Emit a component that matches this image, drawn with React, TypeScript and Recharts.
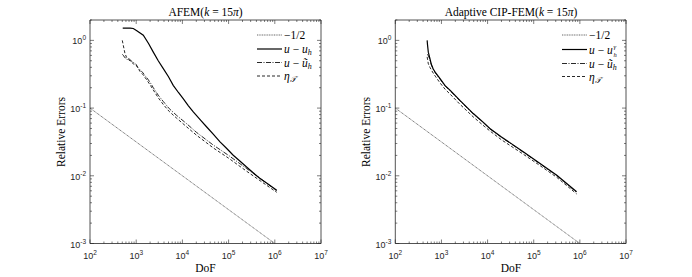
import React from 'react';
import { LineChart, Line, XAxis, YAxis } from 'recharts';

// reference slope -1/2
const refDof = [1e2, 1e6];
const refErr = [1e-1, 1e-3];

// AFEM (left panel)
const afemDof = [511, 620, 740, 865, 1050, 1425, 1850, 2345, 3000, 3860, 5000, 6330, 8200, 10400, 13500, 17200, 25000, 33600, 47000, 65200, 90000, 126000, 175000, 245000, 340000, 479000, 700000, 1100000];
const afemErr = [1.52, 1.52, 1.52, 1.5, 1.38, 1.19, 0.9, 0.67, 0.5, 0.383, 0.29, 0.217, 0.17, 0.138, 0.108, 0.0877, 0.066, 0.0526, 0.041, 0.0316, 0.0255, 0.0201, 0.0165, 0.0135, 0.0111, 0.0091, 0.0076, 0.0061];

const afemTildeDof = [500, 530, 560, 600, 640, 680, 720, 760, 820, 870, 940, 1000, 1080, 1200, 1300, 1410, 1550, 1700, 2000, 2345, 3000, 3860, 5200, 7500, 12300, 20000, 47000, 100000, 245000, 500000, 1100000];
const afemTildeErr = [0.62, 0.6, 0.56, 0.55, 0.52, 0.54, 0.53, 0.5, 0.49, 0.47, 0.46, 0.44, 0.4, 0.37, 0.35, 0.33, 0.3, 0.28, 0.24, 0.2, 0.155, 0.125, 0.098, 0.078, 0.059, 0.044, 0.0283, 0.02, 0.0128, 0.009, 0.006];

const afemEtaDof = [500, 571, 620, 680, 760, 870, 1000, 1200, 1410, 1700, 2000, 2345, 3000, 3860, 5200, 7500, 12300, 20000, 47000, 100000, 245000, 500000, 1100000];
const afemEtaErr = [1.0, 0.64, 0.56, 0.52, 0.49, 0.45, 0.43, 0.35, 0.31, 0.26, 0.22, 0.185, 0.142, 0.113, 0.089, 0.071, 0.053, 0.04, 0.0257, 0.0182, 0.0117, 0.0083, 0.0057];

// Adaptive CIP-FEM (right panel)
const cipDof = [490, 500, 519, 562, 600, 660, 750, 933, 1200, 1550, 2510, 4900, 8700, 11200, 20000, 60300, 130000, 316000, 851000];
const cipErr = [1.0, 0.85, 0.67, 0.54, 0.45, 0.38, 0.33, 0.272, 0.215, 0.183, 0.13, 0.083, 0.059, 0.05, 0.0375, 0.0225, 0.0156, 0.0102, 0.0058];

const cipTildeDof = [490, 519, 562, 600, 660, 750, 933, 1200, 1550, 2510, 4900, 8700, 11200, 20000, 60300, 130000, 316000, 851000];
const cipTildeErr = [0.62, 0.6, 0.52, 0.44, 0.375, 0.326, 0.268, 0.212, 0.18, 0.128, 0.082, 0.058, 0.0495, 0.037, 0.0222, 0.0154, 0.0101, 0.0057];

const cipEtaDof = [490, 520, 562, 660, 750, 933, 1200, 1550, 2510, 4900, 8700, 11200, 20000, 60300, 130000, 316000, 851000];
const cipEtaErr = [0.57, 0.45, 0.4, 0.33, 0.29, 0.235, 0.19, 0.16, 0.114, 0.074, 0.053, 0.046, 0.034, 0.0207, 0.0145, 0.0095, 0.0054];

const xTicks = [100, 200, 300, 400, 500, 600, 700, 800, 900, 1e3, 2e3, 3e3, 4e3, 5e3, 6e3, 7e3, 8e3, 9e3, 1e4, 2e4, 3e4, 4e4, 5e4, 6e4, 7e4, 8e4, 9e4, 1e5, 2e5, 3e5, 4e5, 5e5, 6e5, 7e5, 8e5, 9e5, 1e6, 2e6, 3e6, 4e6, 5e6, 6e6, 7e6, 8e6, 9e6, 1e7];
const yTicks = [0.001, 0.002, 0.003, 0.004, 0.005, 0.006, 0.007, 0.008, 0.009, 0.01, 0.02, 0.03, 0.04, 0.05, 0.06, 0.07, 0.08, 0.09, 0.1, 0.2, 0.3, 0.4, 0.5, 0.6, 0.7, 0.8, 0.9, 1, 2];

const zip = (xs: number[], ys: number[]) => xs.map((x, i) => ({ x, y: ys[i] }));

const AX = '#262626';
const SANS = '"Liberation Sans", Arial, sans-serif';
const SERIF = '"Liberation Serif", "Times New Roman", serif';

const isMajor = (v: number) => Math.abs(Math.log10(v) - Math.round(Math.log10(v))) < 1e-6;

// x/y handed to a custom tick sit 1px off the plot edge (axis size 1, tickSize 0)
const Tick = ({ x, y, payload, side }: any) => {
  const v = payload.value;
  const major = isMajor(v);
  const len = major ? 4 : 2;
  const exp = Math.round(Math.log10(v));
  if (side === 'bottom') {
    return (
      <g>
        <line x1={x} y1={y} x2={x} y2={y - len} stroke={AX} strokeWidth={0.6} />
        {major && (
          <text x={x} y={y + 15} textAnchor="middle" fontFamily={SANS} fontSize={9} fill={AX}>
            10<tspan dy={-4} fontSize={6.5}>{exp}</tspan>
          </text>
        )}
      </g>
    );
  }
  if (side === 'top') {
    return <line x1={x} y1={y} x2={x} y2={y + len} stroke={AX} strokeWidth={0.6} />;
  }
  if (side === 'left') {
    return (
      <g>
        <line x1={x} y1={y} x2={x + len} y2={y} stroke={AX} strokeWidth={0.6} />
        {major && (
          <text x={x - 4} y={y + 4} textAnchor="end" fontFamily={SANS} fontSize={9} fill={AX}>
            10<tspan dy={-4} fontSize={6.5}>{exp}</tspan>
          </text>
        )}
      </g>
    );
  }
  return <line x1={x} y1={y} x2={x - len} y2={y} stroke={AX} strokeWidth={0.6} />;
};

const STYLES = {
  ref: { stroke: '#555', strokeWidth: 0.9, strokeDasharray: '1 0.7' },
  solid: { stroke: '#000', strokeWidth: 1.2, strokeDasharray: undefined },
  dashdot: { stroke: '#111', strokeWidth: 0.9, strokeDasharray: '5 1.5 1 1.5' },
  dashed: { stroke: '#111', strokeWidth: 0.9, strokeDasharray: '3 2' },
};

interface PanelProps {
  left: number;
  marginLeft: number;
  marginRight: number;
  solid: { x: number; y: number }[];
  tilde: { x: number; y: number }[];
  eta: { x: number; y: number }[];
}

const axisLine = { stroke: AX, strokeWidth: 0.8 };

const Panel = ({ left, marginLeft, marginRight, solid, tilde, eta }: PanelProps) => (
  <div style={{ position: 'absolute', left, top: 0 }}>
    <LineChart width={346} height={277} margin={{ top: 19, right: marginRight - 1, bottom: 32.5, left: marginLeft - 1 }}>
      <XAxis xAxisId="b" dataKey="x" type="number" scale="log" domain={[100, 1e7]} allowDataOverflow ticks={xTicks} interval={0} height={1} tickSize={0} tickMargin={0} axisLine={axisLine} tickLine={false} tick={(p: any) => <Tick {...p} side="bottom" />} />
      <XAxis xAxisId="t" orientation="top" dataKey="x" type="number" scale="log" domain={[100, 1e7]} allowDataOverflow ticks={xTicks} interval={0} height={1} tickSize={0} tickMargin={0} axisLine={axisLine} tickLine={false} tick={(p: any) => <Tick {...p} side="top" />} />
      <YAxis yAxisId="l" type="number" scale="log" domain={[0.001, 2]} allowDataOverflow ticks={yTicks} interval={0} width={1} tickSize={0} tickMargin={0} axisLine={axisLine} tickLine={false} tick={(p: any) => <Tick {...p} side="left" />} />
      <YAxis yAxisId="r" orientation="right" type="number" scale="log" domain={[0.001, 2]} allowDataOverflow ticks={yTicks} interval={0} width={1} tickSize={0} tickMargin={0} axisLine={axisLine} tickLine={false} tick={(p: any) => <Tick {...p} side="right" />} />
      <Line xAxisId="b" yAxisId="l" data={zip(refDof, refErr)} dataKey="y" type="linear" dot={false} isAnimationActive={false} {...STYLES.ref} />
      <Line xAxisId="b" yAxisId="l" data={tilde} dataKey="y" type="linear" dot={false} isAnimationActive={false} {...STYLES.dashdot} />
      <Line xAxisId="b" yAxisId="l" data={eta} dataKey="y" type="linear" dot={false} isAnimationActive={false} {...STYLES.dashed} />
      <Line xAxisId="b" yAxisId="l" data={solid} dataKey="y" type="linear" dot={false} isAnimationActive={false} {...STYLES.solid} />
      <Line xAxisId="t" yAxisId="r" data={zip(refDof, refErr)} dataKey="y" type="linear" dot={false} isAnimationActive={false} stroke="none" />
    </LineChart>
  </div>
);

const LegendRow = ({ x, y, style, children }: any) => (
  <g>
    <line x1={x} y1={y} x2={x + 25} y2={y} stroke={style.stroke} strokeWidth={style.strokeWidth} strokeDasharray={style.strokeDasharray} />
    <text x={x + 27} y={y + 4} fontFamily={SERIF} fontSize={11.5} fill="#000">{children}</text>
  </g>
);

const Overlay = () => (
  <svg width={692} height={277} style={{ position: 'absolute', left: 0, top: 0, pointerEvents: 'none' }}>
    <g fontFamily={SERIF} fill="#000">
      <text x={205.5} y={16} textAnchor="middle" fontSize={11.5}>
        AFEM(<tspan fontStyle="italic">k</tspan> = 15<tspan fontStyle="italic">π</tspan>)
      </text>
      <text x={511} y={16} textAnchor="middle" fontSize={11.5}>
        Adaptive CIP-FEM(<tspan fontStyle="italic">k</tspan> = 15<tspan fontStyle="italic">π</tspan>)
      </text>
      <text x={205.5} y={272} textAnchor="middle" fontSize={11.5}>DoF</text>
      <text x={511} y={272} textAnchor="middle" fontSize={11.5}>DoF</text>
      <text transform="translate(65,132) rotate(-90)" textAnchor="middle" fontSize={11.5}>Relative Errors</text>
      <text transform="translate(370,132) rotate(-90)" textAnchor="middle" fontSize={11.5}>Relative Errors</text>
    </g>
    <LegendRow x={257} y={35} style={STYLES.ref}>−1/2</LegendRow>
    <LegendRow x={257} y={49} style={STYLES.solid}>
      <tspan fontStyle="italic">u</tspan> − <tspan fontStyle="italic">u</tspan><tspan fontStyle="italic" fontSize={8} dy={2}>h</tspan>
    </LegendRow>
    <LegendRow x={257} y={62.5} style={STYLES.dashdot}>
      <tspan fontStyle="italic">u</tspan> − <tspan fontStyle="italic">ũ</tspan><tspan fontStyle="italic" fontSize={8} dy={2}>h</tspan>
    </LegendRow>
    <LegendRow x={257} y={76} style={STYLES.dashed}>
      <tspan fontStyle="italic">η</tspan><tspan fontStyle="italic" fontSize={8} dy={2}>𝒯</tspan>
    </LegendRow>
    <LegendRow x={562} y={35} style={STYLES.ref}>−1/2</LegendRow>
    <LegendRow x={562} y={49.5} style={STYLES.solid}>
      <tspan fontStyle="italic">u</tspan> − <tspan fontStyle="italic">u</tspan>
    </LegendRow>
    {/* stacked super/subscript of u_h^γ, drawn as separate small texts */}
    <text x={613.5} y={49} fontFamily={SERIF} fontStyle="italic" fontSize={6.5}>γ</text>
    <text x={613.5} y={56.5} fontFamily={SERIF} fontStyle="italic" fontSize={6.5}>h</text>
    <LegendRow x={562} y={63.5} style={STYLES.dashdot}>
      <tspan fontStyle="italic">u</tspan> − <tspan fontStyle="italic">ũ</tspan><tspan fontStyle="italic" fontSize={8} dy={2}>h</tspan>
    </LegendRow>
    <LegendRow x={562} y={76.5} style={STYLES.dashed}>
      <tspan fontStyle="italic">η</tspan><tspan fontStyle="italic" fontSize={8} dy={2}>𝒯</tspan>
    </LegendRow>
  </svg>
);

export default function App() {
  return (
    <div style={{ position: 'absolute', left: 0, top: 0, width: 692, height: 277, background: '#fff' }}>
      <Panel
        left={0}
        marginLeft={90}
        marginRight={25}
        solid={zip(afemDof, afemErr)}
        tilde={zip(afemTildeDof, afemTildeErr)}
        eta={zip(afemEtaDof, afemEtaErr)}
      />
      <Panel
        left={346}
        marginLeft={49.3}
        marginRight={66}
        solid={zip(cipDof, cipErr)}
        tilde={zip(cipTildeDof, cipTildeErr)}
        eta={zip(cipEtaDof, cipEtaErr)}
      />
      <Overlay />
    </div>
  );
}
